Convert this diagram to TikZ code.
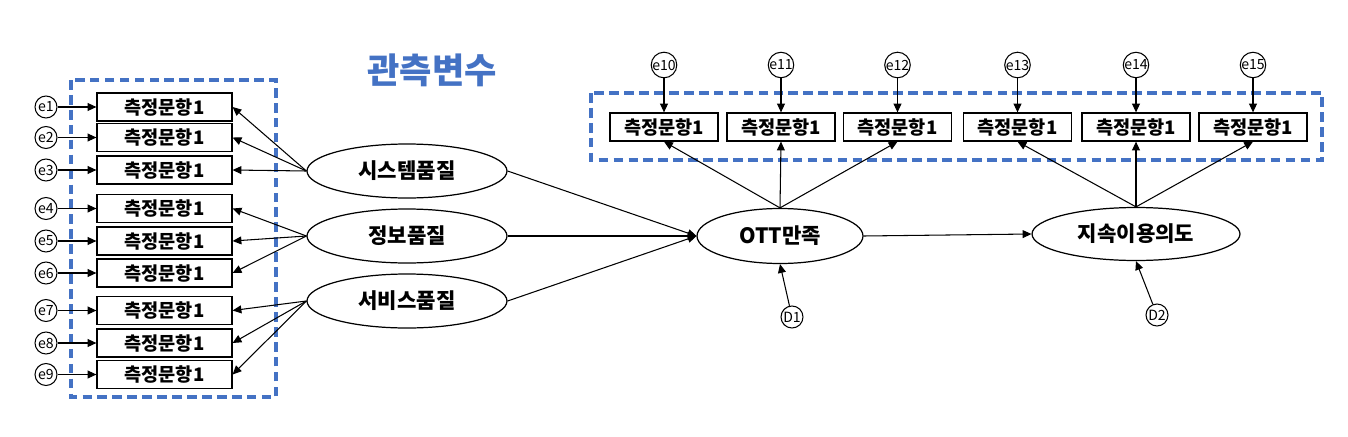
\documentclass[tikz,border=0pt]{standalone}
\usepackage{fontspec}
\setmainfont{Noto Sans CJK KR}
\usetikzlibrary{arrows.meta,shapes.geometric}
\definecolor{frameblue}{HTML}{4472C4}

\begin{document}
\begin{tikzpicture}[x=0.02cm,y=-0.02cm,
		every node/.style={inner sep=0pt},
		item/.style={draw,line width=0.7pt,minimum width=2.7cm,minimum height=0.56cm,font=\fontsize{10.6}{12}\selectfont\bfseries},
		topitem/.style={item,minimum width=2.16cm},
		latent/.style={draw,ellipse,line width=0.7pt,minimum width=4.0cm,minimum height=1.08cm,font=\fontsize{12}{14}\selectfont\bfseries},
		err/.style={draw,circle,line width=0.6pt,minimum size=0.44cm,font=\fontsize{8}{9}\selectfont},
		path/.style={line width=0.6pt,-{Triangle[length=5pt,width=4.5pt]}},
		frame/.style={draw=frameblue,line width=1.8pt,dash pattern=on 5.5pt off 3pt}]
		\useasboundingbox (0,0) rectangle (1348,436);
		% title and dashed frames
		\node [text=frameblue,font=\fontsize{20}{24}\selectfont\bfseries] (title) at (432,70) {관측변수};
		\draw [frame] (71,80) rectangle (276,397);
		\draw [frame] (591,93) rectangle (1322,160);
		% left indicators
		\node [item] (x1) at (164.5,107) {측정문항1};
		\node [item] (x2) at (164.5,137.5) {측정문항1};
		\node [item] (x3) at (164.5,170) {측정문항1};
		\node [item] (x4) at (164.5,208.5) {측정문항1};
		\node [item] (x5) at (164.5,241) {측정문항1};
		\node [item] (x6) at (164.5,273) {측정문항1};
		\node [item] (x7) at (164.5,310.5) {측정문항1};
		\node [item] (x8) at (164.5,343) {측정문항1};
		\node [item] (x9) at (164.5,374.5) {측정문항1};
		\node [err] (e1) at (46,107) {e1};
		\node [err] (e2) at (46,137.5) {e2};
		\node [err] (e3) at (46,170) {e3};
		\node [err] (e4) at (46,208.5) {e4};
		\node [err] (e5) at (46,241) {e5};
		\node [err] (e6) at (46,273) {e6};
		\node [err] (e7) at (46,310.5) {e7};
		\node [err] (e8) at (46,343) {e8};
		\node [err] (e9) at (46,374.5) {e9};
		% top indicators
		\node [topitem] (y1) at (664,127) {측정문항1};
		\node [topitem] (y2) at (781,127) {측정문항1};
		\node [topitem] (y3) at (897.5,127) {측정문항1};
		\node [topitem] (y4) at (1017.5,127) {측정문항1};
		\node [topitem] (y5) at (1136,127) {측정문항1};
		\node [topitem] (y6) at (1253,127) {측정문항1};
		\node [err] (e10) at (664,65) {e10};
		\node [err] (e11) at (781,65) {e11};
		\node [err] (e12) at (897.5,65) {e12};
		\node [err] (e13) at (1017.5,65) {e13};
		\node [err] (e14) at (1136,65) {e14};
		\node [err] (e15) at (1253,65) {e15};
		% latent variables
		\node [latent] (sys) at (407,171) {시스템품질};
		\node [latent] (info) at (407,236) {정보품질};
		\node [latent] (svc) at (407,301) {서비스품질};
		\node [latent,minimum width=3.32cm,minimum height=1.1cm] (sat) at (780,236) {OTT만족};
		\node [latent,minimum width=4.16cm,minimum height=1.06cm] (cont) at (1136,234) {지속이용의도};
		\node [err] (d1) at (792,317) {D1};
		\node [err] (d2) at (1157,315) {D2};
		% error arrows
		\draw [path] (e1) -- (x1);
		\draw [path] (e2) -- (x2);
		\draw [path] (e3) -- (x3);
		\draw [path] (e4) -- (x4);
		\draw [path] (e5) -- (x5);
		\draw [path] (e6) -- (x6);
		\draw [path] (e7) -- (x7);
		\draw [path] (e8) -- (x8);
		\draw [path] (e9) -- (x9);
		\draw [path] (e10) -- (y1);
		\draw [path] (e11) -- (y2);
		\draw [path] (e12) -- (y3);
		\draw [path] (e13) -- (y4);
		\draw [path] (e14) -- (y5);
		\draw [path] (e15) -- (y6);
		\draw [path] (d1) -- (sat.south);
		\draw [path] (d2) -- (cont.south);
		% loadings
		\draw [path] (sys.west) -- (x1.east);
		\draw [path] (sys.west) -- (x2.east);
		\draw [path] (sys.west) -- (x3.east);
		\draw [path] (info.west) -- (x4.east);
		\draw [path] (info.west) -- (x5.east);
		\draw [path] (info.west) -- (x6.east);
		\draw [path] (svc.west) -- (x7.east);
		\draw [path] (svc.west) -- (x8.east);
		\draw [path] (svc.west) -- (x9.east);
		\draw [path] (sat.north) -- (y1.south);
		\draw [path] (sat.north) -- (y2.south);
		\draw [path] (sat.north) -- (y3.south);
		\draw [path] (cont.north) -- (y4.south);
		\draw [path] (cont.north) -- (y5.south);
		\draw [path] (cont.north) -- (y6.south);
		% structural paths
		\draw [path] (sys.east) -- (sat.west);
		\draw [path] (info.east) -- (sat.west);
		\draw [path] (svc.east) -- (sat.west);
		\draw [path] (sat.east) -- (cont.west);
	\end{tikzpicture}
\end{document}
